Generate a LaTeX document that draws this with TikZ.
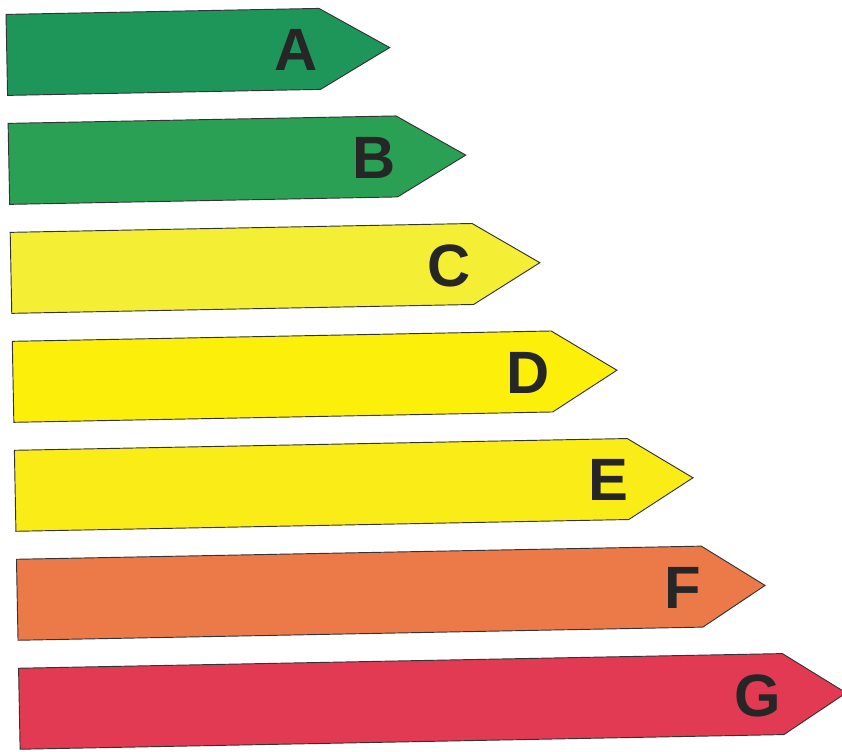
\documentclass[tikz,border=0pt]{standalone}
\usepackage{fontspec}
\usepackage{xcolor}
\usetikzlibrary{positioning}
\newfontfamily\gradefont{Liberation Sans}

\definecolor{gradeA}{RGB}{30,150,90}
\definecolor{gradeB}{RGB}{42,160,84}
\definecolor{gradeC}{RGB}{244,238,52}
\definecolor{gradeD}{RGB}{252,240,10}
\definecolor{gradeE}{RGB}{250,236,22}
\definecolor{gradeF}{RGB}{236,122,72}
\definecolor{gradeG}{RGB}{226,58,82}

\begin{document}
\begin{tikzpicture}
\tikzstyle{bar} = [
	draw=black!80, %thin dark border
	line width=0.8pt,
	line join=miter
];
\tikzstyle{grade} = [
	font=\gradefont\bfseries\fontsize{51}{51}\selectfont,
	text=black!85,
	inner sep=0pt
];

\useasboundingbox (0,0) rectangle (25.26,-22.53);

\begin{scope}[x=0.03cm, y=-0.03cm, rotate around={1.1:(421,375)}]
	%green classes
	\draw[bar, fill=gradeA] (13,6.5) -- (326,6.5) -- (396,47) -- (326,87.5) -- (13,87.5) -- cycle;
	\draw[bar, fill=gradeB] (13,115.5) -- (401,115.5) -- (470,156) -- (401,196.5) -- (13,196.5) -- cycle;
	%yellow classes
	\draw[bar, fill=gradeC] (13,224.5) -- (475,224.5) -- (542,265) -- (475,305.5) -- (13,305.5) -- cycle;
	\draw[bar, fill=gradeD] (13,333.5) -- (552,333.5) -- (617,374) -- (552,414.5) -- (13,414.5) -- cycle;
	\draw[bar, fill=gradeE] (13,442.5) -- (626,442.5) -- (691,483) -- (626,523.5) -- (13,523.5) -- cycle;
	%orange and red classes
	\draw[bar, fill=gradeF] (13,551.5) -- (698,551.5) -- (761,592) -- (698,632.5) -- (13,632.5) -- cycle;
	\draw[bar, fill=gradeG] (13,660.5) -- (777,660.5) -- (840,701) -- (777,741.5) -- (13,741.5) -- cycle;

	%letters
	\node[grade](A) at (302,48) {A};
	\node[grade](B) at (378,157) {B};
	\node[grade](C) at (451,266) {C};
	\node[grade](D) at (528,375) {D};
	\node[grade](E) at (606,484) {E};
	\node[grade](F) at (679,593) {F};
	\node[grade](G) at (752,702) {G};
\end{scope}
\end{tikzpicture}
\end{document}
